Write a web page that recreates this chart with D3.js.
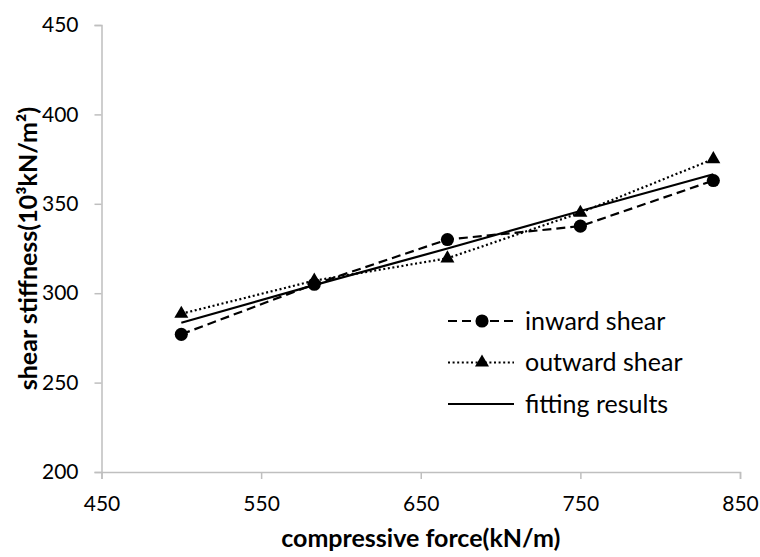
<!DOCTYPE html>
<html lang="en">
  <head>
    <meta charset="UTF-8" />
    <title>Shear stiffness</title>
    <style>
      body { margin: 0; background: #fff; }
      text { font-family: Lato, "Open Sans", sans-serif; fill: #000; }
    </style>
  </head>
  <body>
    <div id="chart"></div>

    <script src="https://d3js.org/d3.v7.min.js"></script>

    <script>
      // data
      const force = [500, 583.3, 666.7, 750, 833.3];
      const inward = [277, 305, 330, 337.5, 363];
      const outward = [288.5, 307, 319.5, 345, 375];
      const fitting = [283.5, 304.5, 325, 346, 366.5];

      const xTicks = [450, 550, 650, 750, 850];
      const yTicks = [200, 250, 300, 350, 400, 450];

      const width = 760;
      const height = 557;
      const margin = {top: 25, right: 20, bottom: 85, left: 101.5};

      const x = d3.scaleLinear([450, 850], [margin.left, width - margin.right]);
      const y = d3.scaleLinear([200, 450], [height - margin.bottom, margin.top]);

      const svg = d3.select("#chart").append("svg")
          .attr("width", width)
          .attr("height", height)
          .attr("viewBox", [0, 0, width, height]);

      // axes
      svg.append("g")
          .attr("transform", `translate(0,${y(200)})`)
          .call(d3.axisBottom(x).tickValues(xTicks).tickSize(7).tickPadding(17).tickFormat(d3.format("d")))
          .call(g => g.selectAll("path, line").attr("stroke", "#bfbfbf").attr("stroke-width", 1.5))
          .call(g => g.selectAll("text").attr("font-size", 21).attr("font-family", "Lato"));

      svg.append("g")
          .attr("transform", `translate(${x(450)},0)`)
          .call(d3.axisLeft(y).tickValues(yTicks).tickSize(7).tickPadding(16).tickFormat(d3.format("d")))
          .call(g => g.selectAll("path, line").attr("stroke", "#bfbfbf").attr("stroke-width", 1.5))
          .call(g => g.selectAll("text").attr("font-size", 21).attr("font-family", "Lato"));

      const series = [
        {name: "inward shear", values: inward, dash: "9,5", marker: d3.symbolCircle, size: 135},
        {name: "outward shear", values: outward, dash: "2,2.6", marker: d3.symbolTriangle, size: 85},
        {name: "fitting results", values: fitting, dash: null, marker: null}
      ];

      const line = d3.line()
          .x((d, i) => x(force[i]))
          .y(d => y(d));

      series.forEach(s => {
        svg.append("path")
            .attr("d", line(s.values))
            .attr("fill", "none")
            .attr("stroke", "#000")
            .attr("stroke-width", 2.2)
            .attr("stroke-dasharray", s.dash);
        if (s.marker) {
          svg.append("g")
            .selectAll("path")
            .data(s.values)
            .join("path")
              .attr("transform", (d, i) => `translate(${x(force[i])},${y(d)})`)
              .attr("d", d3.symbol(s.marker, s.size))
              .attr("fill", "#000");
        }
      });

      // legend
      const legend = svg.append("g")
          .attr("transform", "translate(448,321)");

      series.forEach((s, i) => {
        const row = legend.append("g").attr("transform", `translate(0,${i * 41.5})`);
        row.append("line")
            .attr("x1", 0).attr("x2", 66)
            .attr("stroke", "#000")
            .attr("stroke-width", 2.2)
            .attr("stroke-dasharray", s.dash);
        if (s.marker) {
          row.append("path")
              .attr("transform", "translate(34,0)")
              .attr("d", d3.symbol(s.marker, s.size))
              .attr("fill", "#000");
        }
        row.append("text")
            .attr("x", 77)
            .attr("dy", "0.35em")
            .attr("font-size", 25)
            .text(s.name);
      });

      // axis titles
      svg.append("text")
          .attr("x", (x(450) + x(850)) / 2)
          .attr("y", 547)
          .attr("text-anchor", "middle")
          .attr("font-size", 25)
          .attr("font-weight", "bold")
          .text("compressive force(kN/m)");

      svg.append("text")
          .attr("transform", `translate(37,${(y(200) + y(450)) / 2}) rotate(-90)`)
          .attr("text-anchor", "middle")
          .attr("font-size", 25)
          .attr("font-weight", "bold")
          .text("shear stiffness(10³kN/m²)");
    </script>
  </body>
</html>
